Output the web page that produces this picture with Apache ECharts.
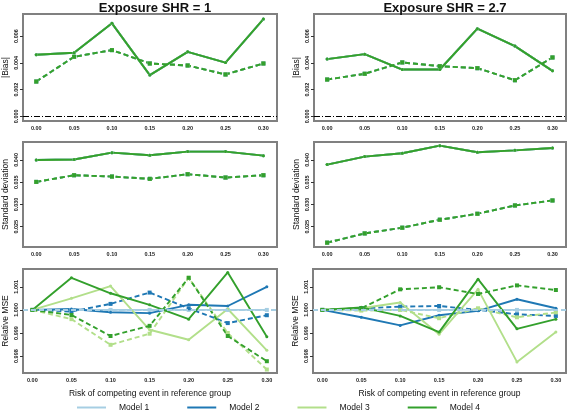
<!DOCTYPE html>
<html>
<head>
<meta charset="utf-8">
<script src="https://cdn.jsdelivr.net/npm/echarts@6/dist/echarts.min.js"></script>
<style>html,body{margin:0;padding:0;background:#fff}#c{width:567px;height:411px}</style>
</head>
<body>
<div id="c"></div>
<script>
// ---- data ----
const riskX = [0, 0.05, 0.10, 0.15, 0.20, 0.25, 0.30];
const xTickValues = [0, 0.05, 0.10, 0.15, 0.20, 0.25, 0.30];
const biasTicks = [0, 0.002, 0.004, 0.006];
const sdTicks = [0.025, 0.030, 0.035, 0.040];
const mseTicks = [0.998, 0.999, 1.000, 1.001];
const modelNames = ['Model 1', 'Model 2', 'Model 3', 'Model 4'];
const panelTitles = ['Exposure SHR = 1', 'Exposure SHR = 2.7'];

// |Bias| (all four models coincide)
const biasSHR1Solid  = [0.00460, 0.00475, 0.00695, 0.00308, 0.00482, 0.00402, 0.00727];
const biasSHR1Dashed = [0.00260, 0.00445, 0.00495, 0.00395, 0.00380, 0.00313, 0.00395];
const biasSHR27Solid  = [0.00428, 0.00465, 0.00350, 0.00350, 0.00655, 0.00525, 0.00340];
const biasSHR27Dashed = [0.00275, 0.00318, 0.00403, 0.00375, 0.00360, 0.00270, 0.00440];

// Standard deviation (all four models coincide)
const sdSHR1Solid  = [0.04000, 0.04010, 0.04164, 0.04104, 0.04187, 0.04187, 0.04097];
const sdSHR1Dashed = [0.03507, 0.03657, 0.03627, 0.03575, 0.03680, 0.03605, 0.03657];
const sdSHR27Solid  = [0.03896, 0.04075, 0.04150, 0.04321, 0.04172, 0.04216, 0.04269];
const sdSHR27Dashed = [0.02142, 0.02350, 0.02478, 0.02657, 0.02791, 0.02978, 0.03090];

// Relative MSE, SHR = 1
const mse1M1Solid  = [1, 1, 1, 1, 1, 1, 1];
const mse1M1Dashed = [1, 1, 1, 1, 1, 1, 1];
const mse1M2Solid  = [1, 1.00004, 0.99990, 0.99986, 1.00022, 1.00017, 1.00100];
const mse1M2Dashed = [1, 0.99993, 1.00026, 1.00075, 1.00007, 0.99943, 0.99977];
const mse1M3Solid  = [1, 1.00050, 1.00103, 0.99914, 0.99871, 1.00004, 0.99825];
const mse1M3Dashed = [1, 0.99960, 0.99849, 0.99897, 1.00139, 0.99900, 0.99742];
const mse1M4Solid  = [1, 1.00139, 1.00072, 1.00022, 0.99960, 1.00162, 0.99884];
const mse1M4Dashed = [1, 0.99978, 0.99887, 0.99931, 1.00139, 0.99887, 0.99778];

// Relative MSE, SHR = 2.7
const mse27M1Solid  = [1, 1, 1, 1, 1, 1, 1];
const mse27M1Dashed = [1, 1, 1, 1, 1, 1, 1];
const mse27M2Solid  = [1, 0.99968, 0.99933, 0.99977, 0.99996, 1.00046, 1.00007];
const mse27M2Dashed = [1, 1.00007, 1.00014, 1.00017, 1.00000, 0.99981, 0.99974];
const mse27M3Solid  = [1, 1.00007, 1.00032, 0.99895, 1.00089, 0.99775, 0.99904];
const mse27M3Dashed = [1, 0.99997, 1.00000, 0.99964, 1.00007, 0.99968, 0.99989];
const mse27M4Solid  = [1, 1.00011, 0.99974, 0.99904, 1.00133, 0.99918, 0.99960];
const mse27M4Dashed = [1, 1.00007, 1.00089, 1.00098, 1.00069, 1.00106, 1.00086];

// ---- styling ----
const colors = ['#a6cee3', '#1f78b4', '#b2df8a', '#33a02c'];
const FONT = 'Liberation Sans, Arial, Helvetica, sans-serif';

const grids = [
  {left: 23, top: 14, width: 254, height: 107},
  {left: 314, top: 14, width: 252, height: 107},
  {left: 23, top: 142, width: 254, height: 105},
  {left: 314, top: 142, width: 252, height: 105},
  {left: 23, top: 269, width: 254, height: 104},
  {left: 313, top: 269, width: 253, height: 104}
].map(g => Object.assign(g, {show: true, borderColor: '#808080', borderWidth: 2, backgroundColor: 'transparent', containLabel: false}));

function xAxisFor(i) {
  const bottom = i >= 4;
  return {
    type: 'value', gridIndex: i,
    min: bottom ? -0.012 : -0.0175, max: bottom ? 0.313 : 0.318,
    axisLine: {show: false, onZero: false}, splitLine: {show: false},
    axisTick: {show: false},
    axisLabel: {customValues: xTickValues, formatter: v => v.toFixed(2), fontSize: 5.5, fontWeight: 'bold', color: '#222', fontFamily: FONT, margin: 4},
    name: bottom ? 'Risk of competing event in reference group' : '',
    nameLocation: 'middle', nameGap: 16,
    nameTextStyle: {fontSize: 8.5, color: '#111', fontFamily: FONT}
  };
}
const yConf = [
  {min: -0.00035, max: 0.00765, ticks: biasTicks, dec: 3, name: '|Bias|'},
  {min: 0.02045, max: 0.04403, ticks: sdTicks, dec: 3, name: 'Standard deviation'},
  {min: 0.99727, max: 1.00177, ticks: mseTicks, dec: 3, name: 'Relative MSE'}
];
function yAxisFor(i) {
  const c = yConf[Math.floor(i / 2)];
  return {
    type: 'value', gridIndex: i, min: c.min, max: c.max,
    axisLine: {show: false, onZero: false}, splitLine: {show: false},
    axisTick: {show: true, customValues: c.ticks, length: 3, lineStyle: {color: '#333', width: 1}},
    axisLabel: {customValues: c.ticks, formatter: v => v.toFixed(c.dec), rotate: 90, fontSize: 5.5, fontWeight: 'bold', color: '#222', fontFamily: FONT, margin: 4},
    name: c.name, nameLocation: 'middle', nameGap: 13,
    nameTextStyle: {fontSize: 8.5, color: '#111', fontFamily: FONT}
  };
}

function mkSeries(grid, model, vals, dashed, extra) {
  const s = {
    type: 'line', name: modelNames[model], xAxisIndex: grid, yAxisIndex: grid,
    data: riskX.map((x, k) => [x, vals[k]]),
    color: colors[model],
    symbol: dashed ? 'rect' : 'circle', symbolSize: dashed ? 4 : 3,
    lineStyle: {width: 1.9, type: dashed ? [5, 3] : 'solid', color: colors[model]},
    itemStyle: {color: colors[model]},
    silent: true, animation: false
  };
  return Object.assign(s, extra || {});
}

const series = [];
const biasSets = [[biasSHR1Solid, biasSHR1Dashed], [biasSHR27Solid, biasSHR27Dashed]];
const sdSets = [[sdSHR1Solid, sdSHR1Dashed], [sdSHR27Solid, sdSHR27Dashed]];
for (let p = 0; p < 2; p++) {
  for (let m = 0; m < 4; m++) {
    series.push(mkSeries(p, m, biasSets[p][0], false));
    const extra = m === 0 ? {markLine: {silent: true, symbol: 'none', label: {show: false}, animation: false,
      lineStyle: {color: '#000', width: 1, type: [6, 2, 1, 2]}, data: [{yAxis: 0}]}} : null;
    series.push(mkSeries(p, m, biasSets[p][1], true, extra));
  }
  for (let m = 0; m < 4; m++) {
    series.push(mkSeries(2 + p, m, sdSets[p][0], false));
    series.push(mkSeries(2 + p, m, sdSets[p][1], true));
  }
}
const mseSets = [
  [[mse1M1Solid, mse1M1Dashed], [mse1M2Solid, mse1M2Dashed], [mse1M3Solid, mse1M3Dashed], [mse1M4Solid, mse1M4Dashed]],
  [[mse27M1Solid, mse27M1Dashed], [mse27M2Solid, mse27M2Dashed], [mse27M3Solid, mse27M3Dashed], [mse27M4Solid, mse27M4Dashed]]
];
for (let p = 0; p < 2; p++) {
  for (let m = 0; m < 4; m++) {
    series.push(mkSeries(4 + p, m, mseSets[p][m][0], false));
    const extra = m === 0 ? {z: 3, markLine: {silent: true, symbol: 'none', label: {show: false}, animation: false,
      lineStyle: {color: colors[0], width: 1.8, type: [5, 3]}, data: [{yAxis: 1}]}} : null;
    series.push(mkSeries(4 + p, m, mseSets[p][m][1], true, extra));
  }
}

const chart = echarts.init(document.getElementById('c'), null, {renderer: 'canvas'});
chart.setOption({
  animation: false,
  textStyle: {fontFamily: FONT},
  title: [
    {text: panelTitles[0], left: 150, top: -3, textAlign: 'center', textStyle: {fontSize: 13, fontWeight: 'bold', color: '#111', fontFamily: FONT}},
    {text: panelTitles[1], left: 440, top: -3, textAlign: 'center', textStyle: {fontSize: 13, fontWeight: 'bold', color: '#111', fontFamily: FONT}}
  ],
  legend: {
    data: modelNames, left: 77, top: 403, icon: 'rect', itemWidth: 29, itemHeight: 2, itemGap: 38, padding: 0,
    textStyle: {fontSize: 8.5, color: '#111', fontFamily: FONT, padding: [0, 0, 0, 8]},
    selectedMode: false
  },
  grid: grids,
  xAxis: grids.map((g, i) => xAxisFor(i)),
  yAxis: grids.map((g, i) => yAxisFor(i)),
  series: series
});
</script>
</body>
</html>
